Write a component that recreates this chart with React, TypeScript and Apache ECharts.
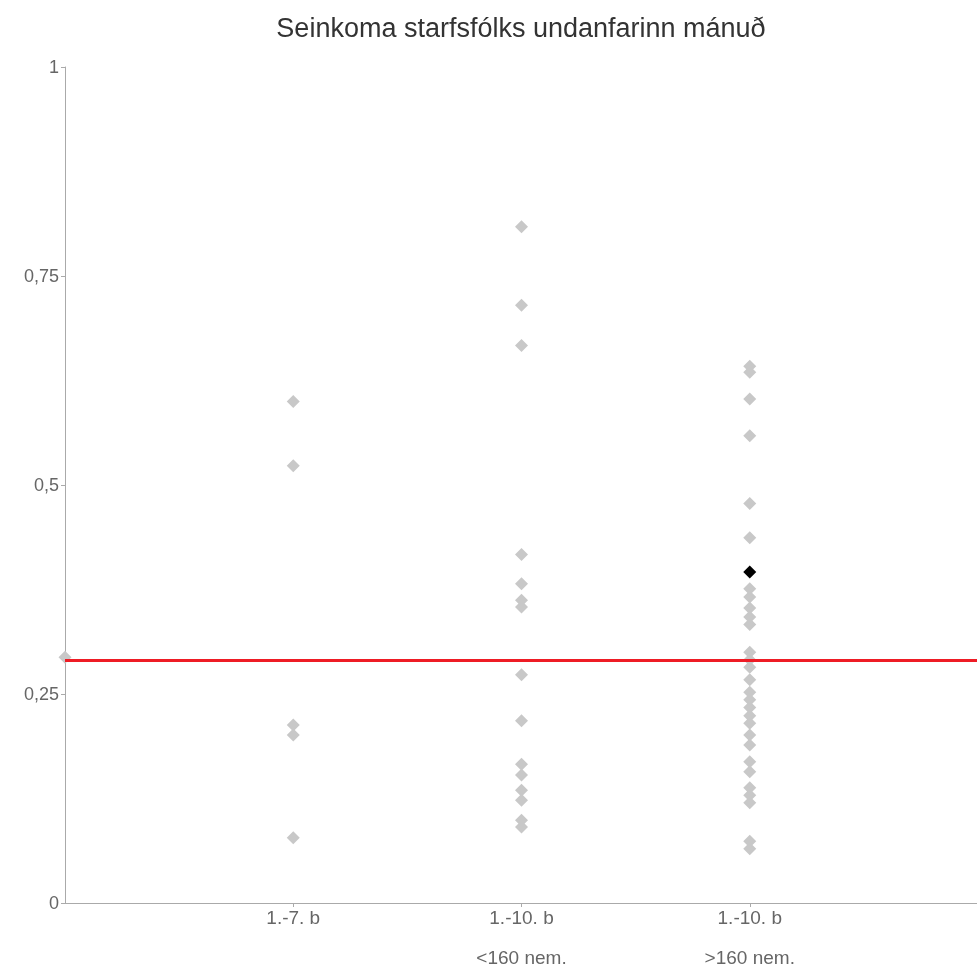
import React, { useEffect, useRef } from "react";
import * as echarts from "echarts";

const title = "Seinkoma starfsfólks undanfarinn mánuð";
const categories = ["", "1.-7. b|", "1.-10. b|<160 nem.", "1.-10. b|>160 nem.", ""];
const yTicks = [0, 0.25, 0.5, 0.75, 1];

const group1 = [0.6, 0.523, 0.213, 0.201, 0.078];
const group2 = [0.809, 0.715, 0.667, 0.417, 0.382, 0.362, 0.354, 0.273, 0.218, 0.166, 0.153, 0.135, 0.123, 0.099, 0.091];
const group3 = [0.642, 0.635, 0.603, 0.559, 0.478, 0.437, 0.376, 0.366, 0.353, 0.342, 0.333, 0.3, 0.291, 0.282, 0.267, 0.252, 0.243, 0.234, 0.224, 0.215, 0.201, 0.189, 0.169, 0.157, 0.138, 0.129, 0.12, 0.074, 0.065];
const edgePoint = [0.294];
const highlighted = [0.396];
const highlightedGroup = 3;
const average = 0.294;

const FONT = "Liberation Sans, Arial, sans-serif";

export default function App() {
  const ref = useRef<HTMLDivElement>(null);
  useEffect(() => {
    if (!ref.current) return;
    const chart = echarts.init(ref.current, null, { renderer: "svg" });
    const grayData: number[][] = [
      ...edgePoint.map((v) => [0, v]),
      ...group1.map((v) => [1, v]),
      ...group2.map((v) => [2, v]),
      ...group3.map((v) => [3, v]),
    ];
    chart.setOption({
      animation: false,
      textStyle: { fontFamily: FONT },
      title: {
        text: title,
        left: 521,
        textAlign: "center",
        top: 14,
        padding: 0,
        textStyle: { fontSize: 27, fontWeight: "normal", color: "#333", fontFamily: FONT },
      },
      grid: { left: 65, right: 0, top: 67, bottom: 67, containLabel: false },
      xAxis: {
        type: "category",
        data: categories,
        boundaryGap: false,
        axisLine: { lineStyle: { color: "#aaa", width: 1 } },
        axisTick: {
          interval: (i: number) => i > 0 && i < categories.length - 1,
          length: 4,
          lineStyle: { color: "#aaa" },
        },
        axisLabel: {
          interval: 0,
          margin: 4,
          formatter: (v: string) => {
            if (!v) return "";
            const [a, b] = v.split("|");
            return `{a|${a}}\n{b|${b || " "}}`;
          },
          rich: {
            a: { fontSize: 19, color: "#666", lineHeight: 20, fontFamily: FONT },
            b: { fontSize: 19, color: "#666", lineHeight: 60, fontFamily: FONT },
          },
        },
        splitLine: { show: false },
      },
      yAxis: {
        type: "value",
        min: 0,
        max: 1,
        interval: 0.25,
        axisLine: { show: true, lineStyle: { color: "#aaa", width: 1 } },
        axisTick: { show: true, length: 4, lineStyle: { color: "#aaa" } },
        axisLabel: {
          color: "#666",
          fontSize: 18,
          margin: 6,
          fontFamily: FONT,
          formatter: (v: number) => (yTicks.includes(v) ? String(v).replace(".", ",") : ""),
        },
        splitLine: { show: false },
      },
      series: [
        {
          type: "scatter",
          symbol: "diamond",
          symbolSize: 13,
          itemStyle: { color: "#c8c8c8", opacity: 1 },
          data: grayData,
          z: 2,
          markLine: {
            silent: true,
            symbol: ["none", "none"],
            label: { show: false },
            lineStyle: { color: "#ee1c25", width: 3, type: "solid", opacity: 1 },
            data: [{ yAxis: average }],
            z: 3,
          },
        },
        {
          type: "scatter",
          symbol: "diamond",
          symbolSize: 13,
          itemStyle: { color: "#000", opacity: 1 },
          data: highlighted.map((v) => [highlightedGroup, v]),
          z: 4,
        },
      ],
    });
    return () => chart.dispose();
  }, []);
  return <div ref={ref} style={{ position: "fixed", left: 0, top: 0, width: 981, height: 970 }} />;
}
